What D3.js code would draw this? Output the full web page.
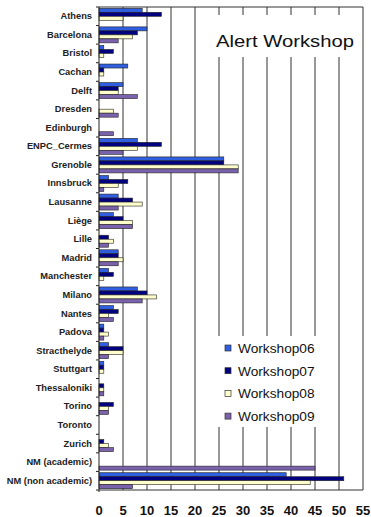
<script src="https://cdn.jsdelivr.net/npm/d3@7"></script>
<style>
  body { margin: 0; background: #fff; }
  text { font-family: "Liberation Sans", Arial, sans-serif; }
</style>
<body>
<script>
// categories (top to bottom)
let cities = ['Athens','Barcelona','Bristol','Cachan','Delft','Dresden','Edinburgh','ENPC_Cermes',
  'Grenoble','Innsbruck','Lausanne','Liège','Lille','Madrid','Manchester','Milano','Nantes','Padova',
  'Stracthelyde','Stuttgart','Thessaloniki','Torino','Toronto','Zurich','NM (academic)','NM (non academic)'];

let workshop06 = [9,10,1,6,5,0,0,8,26,2,4,3,0,4,2,8,3,1,2,1,0,0,0,0,0,39];
let workshop07 = [13,8,3,1,4,0,0,13,26,6,7,5,2,4,3,10,4,1,5,1,1,3,0,1,0,51];
let workshop08 = [5,7,1,1,4,3,0,8,29,4,9,7,3,5,1,12,2,2,5,1,1,2,0,2,0,44];
let workshop09 = [0,4,0,0,8,4,3,5,29,1,4,7,2,4,0,9,3,1,2,0,1,2,0,3,45,7];

let seriesNames = ['Workshop06','Workshop07','Workshop08','Workshop09'];
let xTicks = [0,5,10,15,20,25,30,35,40,45,50,55];

let colours = ['#2f5fe0','#000080','#ffffcc','#7b62ad'];

const W = 371, H = 517;
let svg = d3.select('body').append('svg')
  .attr('width', W)
  .attr('height', H);

const plotLeft = 99, plotRight = 363, plotTop = 7, plotBottom = 490;

let x = d3.scaleLinear().domain([0, 55]).range([plotLeft, plotRight]);
let y0 = d3.scaleBand().domain(cities).range([plotTop, plotBottom]).paddingInner(0.14).paddingOuter(0.07);
let y1 = d3.scaleBand().domain(seriesNames).range([0, y0.bandwidth()]);
let colour = d3.scaleOrdinal().domain(seriesNames).range(colours);

let allSeries = [workshop06, workshop07, workshop08, workshop09];
let rows = [];
cities.forEach((c, i) => {
  seriesNames.forEach((s, j) => {
    rows.push({city: c, series: s, value: allSeries[j][i]});
  });
});

// vertical gridlines
svg.append('g')
  .selectAll('line')
  .data(xTicks.slice(1))
  .enter()
  .append('line')
  .attr('x1', d => x(d)).attr('x2', d => x(d))
  .attr('y1', plotTop).attr('y2', plotBottom)
  .style('stroke', '#333')
  .style('stroke-width', 1);

// frame top / bottom
svg.append('line').attr('x1', plotLeft).attr('x2', plotRight).attr('y1', plotTop).attr('y2', plotTop)
  .style('stroke', '#333');
svg.append('line').attr('x1', plotLeft).attr('x2', plotRight).attr('y1', plotBottom).attr('y2', plotBottom)
  .style('stroke', '#333');

// title box + legend box cover gridlines
svg.append('rect').attr('x', 205).attr('y', 15).attr('width', 152).attr('height', 42).style('fill', '#fff');
svg.append('rect').attr('x', 205).attr('y', 336).attr('width', 127).attr('height', 91).style('fill', '#fff');

// bars
svg.append('g')
  .selectAll('rect')
  .data(rows.filter(d => d.value > 0))
  .enter()
  .append('rect')
  .attr('x', x(0))
  .attr('y', d => y0(d.city) + y1(d.series))
  .attr('width', d => x(d.value) - x(0))
  .attr('height', y1.bandwidth())
  .style('fill', d => colour(d.series))
  .style('stroke', '#222')
  .style('stroke-width', 0.6);

// left axis
let yAxis = svg.append('g')
  .attr('transform', 'translate(' + plotLeft + ',0)')
  .call(d3.axisLeft(y0).tickSize(0).tickPadding(7));
yAxis.select('.domain').remove();
yAxis.selectAll('text')
  .style('font-size', '9.3px')
  .style('font-weight', 'bold')
  .style('fill', '#222');

svg.append('line').attr('x1', plotLeft).attr('x2', plotLeft).attr('y1', plotTop).attr('y2', plotBottom + 2)
  .style('stroke', '#222');
// category boundary ticks
let step = (plotBottom - plotTop) / cities.length;
svg.append('g')
  .selectAll('line')
  .data(d3.range(cities.length + 1))
  .enter()
  .append('line')
  .attr('x1', plotLeft - 3).attr('x2', plotLeft)
  .attr('y1', d => plotTop + d * step).attr('y2', d => plotTop + d * step)
  .style('stroke', '#222');

// x tick labels
svg.append('g')
  .selectAll('text')
  .data(xTicks)
  .enter()
  .append('text')
  .attr('x', d => x(d))
  .attr('y', 515)
  .attr('text-anchor', 'middle')
  .style('font-size', '13px')
  .style('font-weight', 'bold')
  .style('fill', '#111')
  .text(d => d);

// title
svg.append('text')
  .attr('x', 216).attr('y', 47)
  .attr('textLength', 138)
  .attr('lengthAdjust', 'spacingAndGlyphs')
  .style('font-size', '17px')
  .style('fill', '#111')
  .text('Alert Workshop');

// legend
let legend = svg.append('g')
  .selectAll('g')
  .data(seriesNames)
  .enter()
  .append('g')
  .attr('transform', (d, i) => 'translate(225,' + (348 + i * 22.7) + ')');
legend.append('rect')
  .attr('x', 0).attr('y', -3).attr('width', 6).attr('height', 6)
  .style('fill', d => colour(d))
  .style('stroke', '#333')
  .style('stroke-width', 0.7);
legend.append('text')
  .attr('x', 13).attr('y', 5)
  .style('font-size', '13.7px')
  .style('fill', '#111')
  .text(d => d);
</script>
</body>
